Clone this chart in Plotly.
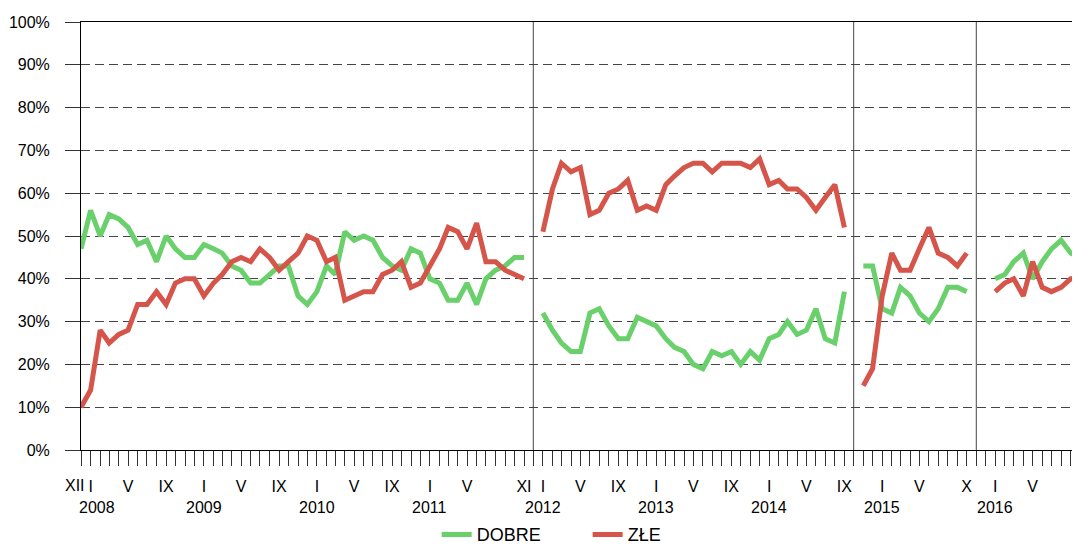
import pandas as pd
import plotly.graph_objects as go

# odpowiedzi miesięczne w %, cztery okresy badania rozdzielone przerwami
start_1 = '2007-12-01'   # XII 2007 - XI 2011
dobre_1 = [47, 56, 50, 55, 54, 52, 48, 49, 44, 50, 47, 45, 45, 48, 47, 46, 43, 42,
           39, 39, 41, 43, 43, 36, 34, 37, 43, 41, 51, 49, 50, 49, 45, 43, 42, 47,
           46, 40, 39, 35, 35, 39, 34, 40, 42, 43, 45, 45]
zle_1 = [10, 14, 28, 25, 27, 28, 34, 34, 37, 34, 39, 40, 40, 36, 39, 41, 44, 45,
         44, 47, 45, 42, 44, 46, 50, 49, 44, 45, 35, 36, 37, 37, 41, 42, 44, 38,
         39, 43, 47, 52, 51, 47, 53, 44, 44, 42, 41, 40]

start_2 = '2012-01-01'   # I 2012 - IX 2014
dobre_2 = [32, 28, 25, 23, 23, 32, 33, 29, 26, 26, 31, 30, 29, 26, 24, 23, 20, 19,
           23, 22, 23, 20, 23, 21, 26, 27, 30, 27, 28, 33, 26, 25, 37]
zle_2 = [51, 61, 67, 65, 66, 55, 56, 60, 61, 63, 56, 57, 56, 62, 64, 66, 67, 67,
         65, 67, 67, 67, 66, 68, 62, 63, 61, 61, 59, 56, 59, 62, 52]

start_3 = '2014-11-01'   # XI 2014 - X 2015
dobre_3 = [43, 43, 33, 32, 38, 36, 32, 30, 33, 38, 38, 37]
zle_3 = [15, 19, 36, 46, 42, 42, 47, 52, 46, 45, 43, 46]

start_4 = '2016-01-01'   # I 2016 - X 2016
dobre_4 = [40, 41, 44, 46, 40, 44, 47, 49, 46, 45]
zle_4 = [37, 39, 40, 36, 44, 38, 37, 38, 40, 40]

# podpisy osi X (XII 2007 osobno, przesunięty w lewo)
label_months = ['2008-01', '2008-05', '2008-09', '2009-01', '2009-05',
                '2009-09', '2010-01', '2010-05', '2010-09', '2011-01', '2011-05',
                '2011-11', '2012-01', '2012-05', '2012-09', '2013-01', '2013-05',
                '2013-09', '2014-01', '2014-05', '2014-09', '2015-01', '2015-05',
                '2015-10', '2016-01', '2016-05', '2016-10']
label_text = ['I', 'V', 'IX', 'I', 'V', 'IX', 'I', 'V', 'IX', 'I', 'V',
              'XI', 'I', 'V', 'IX', 'I', 'V', 'IX', 'I', 'V', 'IX', 'I', 'V',
              'X', 'I', 'V', 'X']
first_label = 'XII'
years = ['2008', '2009', '2010', '2011', '2012', '2013', '2014', '2015', '2016']
year_pos = ['2008-01-23', '2009-01-01', '2010-01-01', '2011-01-01', '2012-01-01',
            '2013-01-01', '2014-01-01', '2015-01-01', '2016-01-01']
separators = ['2011-12-01', '2014-10-01', '2015-11-01']

segments = [(start_1, dobre_1, zle_1), (start_2, dobre_2, zle_2),
            (start_3, dobre_3, zle_3), (start_4, dobre_4, zle_4)]

x, y_dobre, y_zle = [], [], []
for start, d, z in segments:
    dates = pd.date_range(start, periods=len(d), freq='MS')
    x += list(dates) + [dates[-1] + pd.Timedelta(days=15)]
    y_dobre += d + [None]
    y_zle += z + [None]

all_months = pd.date_range('2007-12-01', '2016-10-01', freq='MS')
lab = dict(zip(label_months, label_text))
tick_text = [lab.get(m.strftime('%Y-%m'), '') for m in all_months]

fig = go.Figure()
fig.add_trace(go.Scatter(x=x, y=y_dobre, mode='lines', name='DOBRE',
                         line=dict(color='#69d06c', width=5), connectgaps=False))
fig.add_trace(go.Scatter(x=x, y=y_zle, mode='lines', name='ZŁE',
                         line=dict(color='#d6554b', width=5), connectgaps=False))

for s in separators:
    fig.add_shape(type='line', xref='x', yref='paper', x0=s, x1=s, y0=0, y1=1,
                  line=dict(color='#444444', width=1))

fig.add_annotation(x=start_1, y=0, xref='x', yref='paper', text=first_label,
                   showarrow=False, xshift=-6, yshift=-35, yanchor='middle',
                   font=dict(size=16))
for yr, pos in zip(years, year_pos):
    fig.add_annotation(x=pos, y=0, xref='x', yref='paper', text=yr, showarrow=False,
                       yshift=-57, yanchor='middle', font=dict(size=16))

fig.update_xaxes(type='date', range=['2007-12-01', '2016-10-01'],
                 tickmode='array', tickvals=all_months, ticktext=tick_text,
                 ticks='outside', ticklen=15, tickcolor='#333333', tickwidth=1,
                 showline=True, linecolor='black', linewidth=1, mirror=True,
                 showgrid=False, tickangle=0, ticklabeloverflow='allow',
                 ticklabelstandoff=7, tickfont=dict(size=16), automargin=False)
fig.update_yaxes(range=[0, 100], dtick=10, ticksuffix='%', ticks='outside',
                 ticklen=15, tickcolor='#333333', showline=True, linecolor='black',
                 linewidth=1, showgrid=True, gridcolor='#444444', gridwidth=1,
                 griddash='9px,5px', zeroline=False, tickfont=dict(size=16),
                 ticklabelstandoff=12, automargin=False)

# strona ma 8 px marginesu body, stąd 1072x537 i mniejsze marginesy l/t
fig.update_layout(
    width=1072, height=537,
    margin=dict(l=73, r=0, t=14, b=95, autoexpand=False),
    plot_bgcolor='white', paper_bgcolor='white',
    font=dict(family='Liberation Sans, Arial, sans-serif', color='black'),
    legend=dict(orientation='h', x=0.356, xanchor='left', y=-0.198,
                yanchor='middle', entrywidth=106, borderwidth=0,
                tracegroupgap=0, font=dict(size=18)),
)

fig.write_html('out.html')
